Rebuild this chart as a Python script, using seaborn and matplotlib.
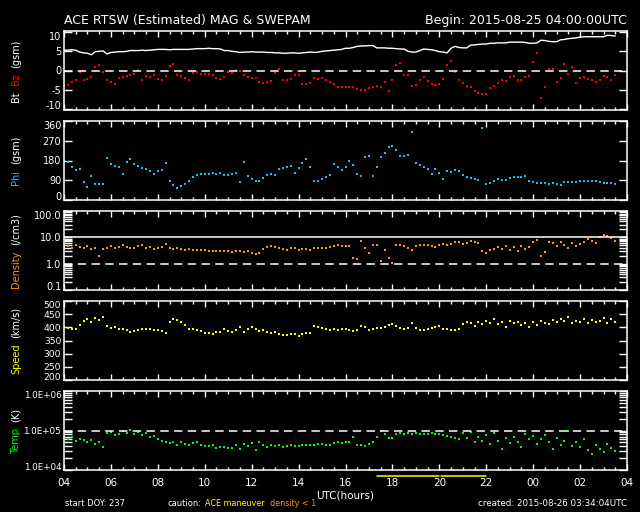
import numpy as np
import pandas as pd
import seaborn as sns
import matplotlib.pyplot as plt
import matplotlib.ticker as mticker

# ---- data (10 minute samples from 04:00 UTC) ----
bt = [5.3, 5.3, 5.4, 5.3, 4.8, 4.6, 4.5, 4.1, 4.9, 5.0,
      5.1, 4.3, 4.7, 4.8, 4.9, 4.9, 5.0, 5.2, 5.2, 5.2,
      5.3, 5.2, 5.3, 5.4, 5.5, 5.5, 5.5, 5.4, 5.5, 5.5,
      5.5, 5.5, 5.5, 5.6, 5.7, 5.7, 5.7, 5.8, 5.7, 5.7,
      5.6, 5.2, 5.2, 5.0, 4.9, 4.7, 4.8, 4.8, 4.9, 4.8,
      4.8, 4.8, 4.7, 4.7, 4.6, 4.6, 4.5, 4.5, 4.6, 4.6,
      4.5, 4.6, 4.7, 4.8, 4.7, 4.8, 5.0, 5.1, 5.2, 5.3,
      5.4, 5.5, 5.8, 5.8, 6.0, 6.3, 6.4, 6.4, 6.5, 6.5,
      5.9, 5.9, 5.9, 5.8, 5.8, 5.7, 5.6, 5.6, 5.0, 4.8,
      4.8, 5.2, 5.6, 5.5, 5.4, 5.2, 4.9, 4.8, 4.6, 5.8,
      6.3, 6.0, 5.9, 5.9, 6.6, 6.7, 6.8, 6.9, 6.9, 7.1,
      7.1, 7.2, 7.2, 7.2, 7.4, 7.4, 7.4, 7.4, 7.3, 7.1,
      7.1, 7.2, 7.9, 7.8, 7.6, 7.5, 7.5, 8.0, 8.1, 8.3,
      8.4, 8.5, 8.7, 8.8, 8.8, 8.8, 8.8, 8.8, 8.8, 9.2,
      9.1, 9.0]

bz = [-3.8, -3.7, -2.9, -2.6, -0.5, -2.4, -2.3, -1.8, 1.0, 1.5,
      -0.3, -2.5, -2.9, -3.6, -2.0, -1.7, -1.5, -1.2, -0.9, 0.1,
      -2.6, -1.4, -1.6, -1.3, -2.2, -2.4, -1.5, 1.2, 1.8, -1.1,
      -1.4, -1.9, -2.4, -0.6, -0.3, -0.9, -0.9, -1.0, -1.2, -1.9,
      -2.1, -1.6, -0.3, -0.6, 0.2, -0.2, -1.1, -1.6, -2.0, -1.9,
      -2.9, -3.3, -3.1, -2.8, -0.6, 0.4, -2.4, -2.5, -2.3, -1.1,
      -1.3, -3.4, -3.6, -3.3, -1.9, -2.2, -2.0, -2.5, -2.9, -3.5,
      -4.2, -4.3, -4.4, -4.4, -4.4, -4.8, -5.1, -5.0, -4.6, -4.2,
      -4.0, -4.2, -3.1, -5.3, -2.4, 1.5, 1.9, -1.1, -1.3, -4.0,
      -3.9, -2.4, -1.6, -2.7, -3.4, -3.7, -3.5, -2.1, 1.4, 2.4,
      -0.5, -2.5, -3.3, -4.1, -4.4, -5.3, -5.9, -6.0, -6.1, -4.5,
      -4.0, -3.2, -2.6, -2.8, -1.6, -1.5, -2.6, -2.5, -1.6, -1.4,
      2.2, 4.6, -7.2, -4.2, 0.4, 0.3, -3.0, -2.0, 1.8, -0.8,
      0.8, -3.3, -2.0, -1.6, -2.2, -2.5, -3.0, -2.4, -1.5, -1.8,
      -2.6, -1.2]

phi = [180, 175, 150, 135, 140, 80, 60, 110, 75, 72,
       72, 190, 165, 155, 150, 120, 175, 185, 165, 155,
       145, 140, 130, 120, 130, 135, 170, 85, 70, 55,
       62, 75, 85, 105, 115, 118, 120, 118, 122, 118,
       125, 112, 115, 118, 125, 80, 175, 110, 95, 85,
       88, 100, 112, 118, 112, 140, 145, 150, 155, 122,
       145, 170, 185, 150, 85, 88, 95, 105, 115, 165,
       150, 135, 150, 180, 160, 120, 110, 195, 200, 110,
       150, 195, 215, 240, 245, 230, 200, 200, 205, 310,
       170, 160, 150, 140, 120, 140, 125, 95, 130, 128,
       135, 130, 115, 105, 100, 95, 90, 330, 72, 78,
       85, 95, 92, 90, 100, 105, 103, 105, 110, 85,
       80, 78, 78, 76, 75, 78, 72, 68, 82, 80,
       82, 80, 85, 85, 85, 85, 87, 80, 78, 77,
       76, 75]

density = [4.3, 4.6, 4.0, 5.0, 4.3, 3.8, 4.6, 3.6, 3.8, 2.0,
           3.5, 3.8, 4.5, 4.0, 4.4, 5.2, 4.2, 4.0, 4.1, 4.5,
           5.1, 4.0, 4.2, 3.6, 4.0, 4.4, 5.5, 4.0, 3.6, 3.8,
           3.5, 3.3, 3.7, 3.2, 3.4, 3.2, 3.3, 3.0, 3.0, 3.1,
           3.0, 3.0, 2.9, 2.8, 3.0, 2.9, 2.7, 3.1, 2.6, 2.3,
           2.5, 3.5, 4.2, 4.6, 4.2, 4.0, 3.5, 3.3, 4.0, 3.9,
           3.4, 3.6, 3.6, 3.3, 3.8, 3.8, 4.0, 4.0, 4.3, 4.6,
           5.0, 4.8, 4.6, 4.5, 1.7, 1.5, 7.0, 4.0, 2.6, 5.0,
           5.2, 1.3, 3.2, 1.7, 1.05, 5.2, 4.9, 4.5, 4.0, 3.4,
           4.6, 5.2, 5.0, 4.9, 4.6, 4.4, 5.0, 5.6, 5.0, 5.4,
           6.6, 6.4, 5.5, 6.2, 7.0, 6.6, 6.0, 3.0, 2.6, 3.2,
           3.6, 4.2, 3.5, 4.5, 3.4, 4.2, 3.0, 4.5, 3.6, 4.2,
           6.8, 8.0, 1.9, 2.8, 6.4, 6.0, 4.5, 6.5, 5.2, 4.0,
           6.0, 4.5, 5.5, 6.5, 8.5, 7.0, 6.0, 10.0, 12.0, 11.0,
           9.5, 7.5]

speed = [400, 398, 395, 392, 410, 425, 430, 420, 435, 428,
         438, 405, 398, 400, 395, 392, 388, 384, 386, 390,
         392, 395, 394, 390, 388, 385, 380, 420, 432, 428,
         420, 410, 395, 392, 388, 385, 378, 380, 376, 382,
         382, 392, 385, 381, 390, 402, 382, 395, 400, 395,
         385, 388, 383, 380, 384, 376, 372, 372, 373, 376,
         368, 376, 380, 380, 405, 402, 398, 395, 390, 392,
         388, 395, 392, 390, 386, 388, 404, 400, 388, 392,
         398, 398, 402, 408, 411, 405, 396, 395, 398, 415,
         396, 388, 390, 392, 398, 400, 405, 395, 392, 390,
         388, 392, 412, 420, 418, 405, 420, 412, 425, 415,
         430, 412, 420, 402, 425, 415, 422, 410, 418, 400,
         422, 410, 425, 418, 412, 428, 420, 432, 425, 440,
         418, 425, 420, 430, 415, 428, 420, 425, 435, 418,
         430, 422]

temp = [7.0e4, 6.0e4, 6.8e4, 5.5e4, 6.2e4, 5.8e4, 5.0e4, 5.6e4, 4.6e4, 5.2e4,
        3.8e4, 8.5e4, 9.0e4, 7.5e4, 8.0e4, 9.5e4, 8.8e4, 1.05e5, 8.0e4, 9.2e4,
        7.8e4, 8.5e4, 6.8e4, 7.2e4, 6.2e4, 5.5e4, 5.0e4, 4.8e4, 5.2e4, 4.4e4,
        5.0e4, 4.6e4, 4.3e4, 4.8e4, 5.2e4, 4.4e4, 4.1e4, 4.0e4, 4.2e4, 3.7e4,
        3.9e4, 3.8e4, 3.6e4, 3.7e4, 4.2e4, 3.5e4, 4.5e4, 4.0e4, 4.8e4, 3.2e4,
        5.0e4, 4.2e4, 3.8e4, 4.4e4, 4.0e4, 4.3e4, 3.8e4, 4.0e4, 4.2e4, 4.0e4,
        4.1e4, 4.3e4, 4.2e4, 4.4e4, 4.3e4, 4.5e4, 4.6e4, 4.3e4, 4.4e4, 4.8e4,
        5.2e4, 4.8e4, 5.0e4, 5.0e4, 7.0e4, 4.2e4, 4.3e4, 4.1e4, 4.5e4, 5.0e4,
        7.0e4, 9.5e4, 8.0e4, 6.5e4, 6.3e4, 8.2e4, 8.5e4, 8.3e4, 8.8e4, 8.2e4,
        8.5e4, 8.3e4, 8.0e4, 8.2e4, 8.4e4, 8.3e4, 8.1e4, 7.6e4, 7.4e4, 6.8e4,
        6.4e4, 6.0e4, 8.5e4, 6.5e4, 9.0e4, 5.0e4, 7.0e4, 5.5e4, 7.5e4, 4.5e4,
        8.5e4, 5.5e4, 3.5e4, 6.5e4, 4.8e4, 7.0e4, 5.0e4, 3.8e4, 8.0e4, 6.0e4,
        7.2e4, 4.5e4, 6.0e4, 7.5e4, 5.0e4, 3.5e4, 6.5e4, 4.2e4, 5.5e4, 1.0e5,
        4.0e4, 5.0e4, 3.8e4, 6.0e4, 3.2e4, 2.5e4, 4.2e4, 3.5e4, 2.8e4, 4.5e4,
        3.6e4, 3.0e4]

# sample times, hours after 04:00 UTC
hours = np.arange(len(bt)) / 6.0

x_ticks = [0, 2, 4, 6, 8, 10, 12, 14, 16, 18, 20, 22, 24]
x_ticklabels = ['04', '06', '08', '10', '12', '14', '16', '18', '20', '22', '00', '02', '04']

# ACE maneuver intervals (hours after 04:00)
maneuver_start = [13.33, 16.05]
maneuver_end = [15.98, 18.0]

df = pd.DataFrame({'hours': hours, 'bt': bt, 'bz': bz, 'phi': phi,
                   'density': density, 'speed': speed, 'temp': temp})

sns.set_theme(style='ticks')
plt.rcParams['font.family'] = ['DejaVu Sans']
plt.rcParams['axes.unicode_minus'] = False

fig = plt.figure(figsize=(6.4, 5.12), dpi=100, facecolor='black')

tops = [31, 121, 211, 301, 391]
axes = [fig.add_axes([64 / 640, 1 - (t + 79) / 512, 563 / 640, 79 / 512]) for t in tops]
ax1, ax2, ax3, ax4, ax5 = axes

dash = (0, (5.5, 3.5))
dot_kw = dict(marker='s', s=4.2, linewidth=0)

sns.lineplot(data=df, x='hours', y='bt', ax=ax1, color='white', linewidth=1.0)
sns.scatterplot(data=df, x='hours', y='bz', ax=ax1, color='#ff0000', **dot_kw)
ax1.axhline(0, color='white', lw=1.1, ls=dash)
ax1.set_ylim(-10.3, 10.3)
ax1.set_yticks([-10, -5, 0, 5, 10])
ax1.set_yticklabels(['-10', '-5', '0', '5', '10'])

sns.scatterplot(data=df, x='hours', y='phi', ax=ax2, color='#12c4f0', **dot_kw)
ax2.set_ylim(0, 360)
ax2.set_yticks([0, 90, 180, 270, 360])
ax2.set_yticklabels(['0', '90', '180', '270', '360'])

ax3.set_yscale('log')
sns.scatterplot(data=df, x='hours', y='density', ax=ax3, color='#ff9900', **dot_kw)
ax3.axhline(10, color='white', lw=1.1)
ax3.axhline(1, color='white', lw=1.1, ls=dash)
ax3.set_ylim(0.1, 100)
ax3.set_yticks([0.1, 1, 10, 100])
ax3.set_yticklabels(['0.1', '1.0', '10.0', '100.0'])

sns.scatterplot(data=df, x='hours', y='speed', ax=ax4, color='#ffff00', **dot_kw)
ax4.set_ylim(200, 500)
ax4.set_yticks([200, 250, 300, 350, 400, 450, 500])
ax4.set_yticklabels(['200', '250', '300', '350', '400', '450', '500'])

ax5.set_yscale('log')
sns.scatterplot(data=df, x='hours', y='temp', ax=ax5, color='#00ff00', **dot_kw)
ax5.axhline(1e5, color='white', lw=1.1, ls=dash)
ax5.set_ylim(1e4, 1e6)
ax5.set_yticks([1e4, 1e5, 1e6])
ax5.set_yticklabels(['1.0E+04', '1.0E+05', '1.0E+06'])

for ax in (ax3, ax5):
    ax.yaxis.set_minor_locator(mticker.LogLocator(base=10, subs=np.arange(2, 10)))
    ax.yaxis.set_minor_formatter(mticker.NullFormatter())

for i, ax in enumerate(axes):
    ax.set_facecolor('black')
    ax.set_xlim(0, 24)
    ax.set_xticks(x_ticks)
    ax.xaxis.set_minor_locator(mticker.MultipleLocator(0.5))
    ax.set_xlabel('')
    ax.set_ylabel('')
    for s in ax.spines.values():
        s.set_color('white')
        s.set_linewidth(1.1)
    ax.tick_params(axis='x', which='major', direction='in', top=True, bottom=True,
                   length=4, width=1, color='white', labelcolor='white', labelsize=7.5, pad=6)
    ax.tick_params(axis='x', which='minor', direction='in', top=True, bottom=True,
                   length=2.2, width=1, color='white')
    size = {4: 6.3, 3: 6.6}.get(i, 7)
    ax.tick_params(axis='y', which='both', direction='in', left=True, right=True,
                   length=6, width=1, color='white', labelcolor='white',
                   labelsize=size, pad=2)
    if i < 4:
        ax.tick_params(axis='x', labelbottom=False)
    else:
        ax.set_xticklabels(x_ticklabels)
    labels = ax.get_yticklabels()
    labels[0].set_va('baseline')
    labels[-1].set_va('top')

# maneuver bars under the time axis
for s, e in zip(maneuver_start, maneuver_end):
    ax5.plot([s, e], [-0.075, -0.075], color='#ffff00', lw=1.1,
             transform=ax5.get_xaxis_transform(), clip_on=False)

# stacked, multi-coloured y labels
renderer = fig.canvas.get_renderer()


def stacked_label(ax, parts, x=0.025, gap=6):
    texts = [fig.text(x, 0, s, color=c, rotation=90, ha='center', va='bottom', fontsize=7)
             for s, c in parts]
    heights = [t.get_window_extent(renderer).height / fig.bbox.height for t in texts]
    g = gap / fig.bbox.height
    total = sum(heights) + g * (len(texts) - 1)
    pos = ax.get_position()
    y = (pos.y0 + pos.y1) / 2 - total / 2
    for t, h in zip(texts, heights):
        t.set_y(y)
        y += h + g


stacked_label(ax1, [('Bt', 'white'), ('Bz', '#ff0000'), ('(gsm)', 'white')])
stacked_label(ax2, [('Phi', '#12c4f0'), ('(gsm)', 'white')])
stacked_label(ax3, [('Density', '#ff9900'), ('(/cm3)', 'white')])
stacked_label(ax4, [('Speed', '#ffff00'), ('(km/s)', 'white')])
stacked_label(ax5, [('Temp', '#00ff00'), ('(K)', 'white')])

fig.text(64 / 640, 1 - 20.5 / 512, 'ACE RTSW (Estimated) MAG & SWEPAM',
         color='white', fontsize=9, ha='left', va='center')
fig.text(627 / 640, 1 - 20.5 / 512, 'Begin: 2015-08-25 04:00:00UTC',
         color='white', fontsize=9, ha='right', va='center')
fig.text(345.5 / 640, 1 - 495 / 512, 'UTC(hours)', color='white', fontsize=7.5,
         ha='center', va='center')

by = 1 - 504 / 512
fig.text(65 / 640, by, 'start DOY: 237', color='white', fontsize=6, va='center')
fig.text(167 / 640, by, 'caution:', color='white', fontsize=6, va='center')
fig.text(205 / 640, by, 'ACE maneuver', color='#ffff00', fontsize=5.8, va='center')
fig.text(270 / 640, by, 'density < 1', color='#ff9900', fontsize=5.8, va='center')
fig.text(627 / 640, by, 'created: 2015-08-26 03:34:04UTC', color='white', fontsize=6.3,
         ha='right', va='center')

fig.savefig('out.png', dpi=100, facecolor='black')
